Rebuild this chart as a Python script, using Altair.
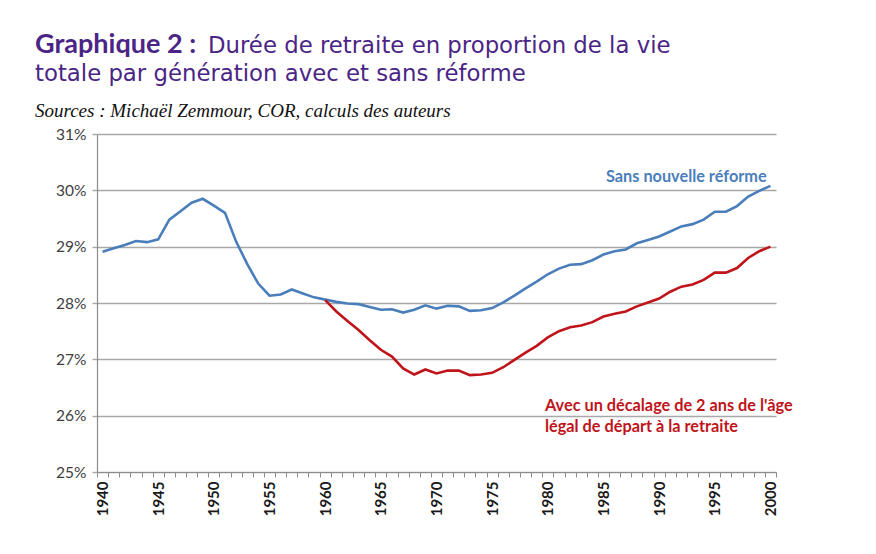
import altair as alt
import pandas as pd

# ---------------- data ----------------
years = list(range(1940, 2001))
sans_reforme = [
    28.91, 28.97, 29.03, 29.10, 29.08, 29.13, 29.48, 29.63, 29.78, 29.85,
    29.73, 29.60, 29.09, 28.69, 28.34, 28.13, 28.15, 28.24, 28.17, 28.10,
    28.06, 28.02, 27.99, 27.98, 27.93, 27.88, 27.89, 27.83, 27.88, 27.96,
    27.90, 27.95, 27.94, 27.86, 27.87, 27.91, 28.01, 28.13, 28.26, 28.38,
    28.51, 28.61, 28.68, 28.69, 28.76, 28.86, 28.92, 28.95, 29.06, 29.12,
    29.18, 29.27, 29.36, 29.40, 29.48, 29.62, 29.62, 29.72, 29.89, 29.99,
    30.08,
]
years_reforme = list(range(1960, 2001))
avec_decalage = [
    28.05, 27.85, 27.68, 27.52, 27.34, 27.17, 27.05, 26.84, 26.73, 26.82,
    26.75, 26.80, 26.80, 26.72, 26.73, 26.76, 26.86, 26.99, 27.12, 27.24,
    27.39, 27.50, 27.57, 27.60, 27.66, 27.76, 27.81, 27.85, 27.94, 28.01,
    28.08, 28.20, 28.29, 28.33, 28.41, 28.54, 28.54, 28.62, 28.80, 28.92,
    29.00,
]
y_ticks = [0.25, 0.26, 0.27, 0.28, 0.29, 0.30, 0.31]

title_bold = "Graphique 2 :"
title_rest_1 = "Durée de retraite en proportion de la vie"
title_line_2 = "totale par génération avec et sans réforme"
source_text = "Sources : Michaël Zemmour, COR, calculs des auteurs"
label_blue = "Sans nouvelle réforme"
label_red = ["Avec un décalage de 2 ans de l'âge", "légal de départ à la retraite"]

BLUE = "#4A7EBB"
RED = "#C0141B"
PURPLE = "#4B2586"
GRID = "#A8A8A8"

df_blue = pd.DataFrame({"annee": years, "valeur": [v / 100 for v in sans_reforme]})
df_red = pd.DataFrame({"annee": years_reforme, "valeur": [v / 100 for v in avec_decalage]})

W, H = 679, 338

x_enc = alt.X(
    "annee:O",
    scale=alt.Scale(type="band", domain=years, paddingInner=0, paddingOuter=0),
    axis=alt.Axis(
        title=None,
        labelAngle=270,
        labelExpr="datum.value % 5 == 0 ? datum.label : ''",
        labelOverlap=False,
        labelFont="Lato",
        labelFontWeight="bold",
        labelFontSize=15,
        labelColor="#1a1a1a",
        labelPadding=4,
        tickBand="extent",
        tickSize=5,
        tickColor="#8c8c8c",
        tickWidth=1,
        domainColor="#8c8c8c",
        domainWidth=1.2,
        grid=False,
    ),
)
y_enc = alt.Y(
    "valeur:Q",
    scale=alt.Scale(domain=[0.25, 0.31], nice=False, zero=False),
    axis=alt.Axis(
        title=None,
        values=y_ticks,
        format=".0%",
        grid=True,
        gridColor=GRID,
        gridWidth=1.4,
        tickSize=5,
        tickColor=GRID,
        tickWidth=1.4,
        domainColor="#8c8c8c",
        domainWidth=1.2,
        labelFont="Lato",
        labelFontSize=15.5,
        labelColor="#404040",
        labelPadding=6,
    ),
)

blue = alt.Chart(df_blue).mark_line(color=BLUE, strokeWidth=2.6).encode(x=x_enc, y=y_enc)
red = alt.Chart(df_red).mark_line(color=RED, strokeWidth=2.6).encode(x=x_enc, y=y_enc)


def txt(s, x, y, **kw):
    return alt.Chart(pd.DataFrame({"t": [s]})).mark_text(
        align="left", baseline="alphabetic", **kw
    ).encode(x=alt.value(x), y=alt.value(y), text="t:N")


# plot origin sits at page (97, 134)
t1 = txt(title_bold, 35 - 97, 53 - 134, font="Lato", fontSize=27, fontWeight="bold", color=PURPLE)
t2 = txt(title_rest_1, 208 - 97, 53 - 134, font="DejaVu Sans", fontSize=22.8, color=PURPLE)
t3 = txt(title_line_2, 35 - 97, 81 - 134, font="DejaVu Sans", fontSize=22.8, color=PURPLE)
t4 = txt(source_text, 35 - 97, 117 - 134, font="Liberation Serif", fontSize=19,
         fontStyle="italic", color="#111111")
t5 = txt(label_blue, 606 - 97, 182 - 134, font="Lato", fontSize=16.3, fontWeight="bold", color=BLUE)
t6 = txt(label_red[0], 545 - 97, 411 - 134, font="Lato", fontSize=16.3, fontWeight="bold", color=RED)
t7 = txt(label_red[1], 545 - 97, 432 - 134, font="Lato", fontSize=16.3, fontWeight="bold", color=RED)

chart = (
    alt.layer(blue, red, t1, t2, t3, t4, t5, t6, t7)
    .properties(
        width=W,
        height=H,
        autosize=alt.AutoSizeParams(type="none"),
        padding={"left": 89, "top": 126, "right": 92, "bottom": 74},
        background="white",
    )
    .configure_view(stroke=None)
)

chart.save("out.html", embed_options={"renderer": "svg", "actions": False})
